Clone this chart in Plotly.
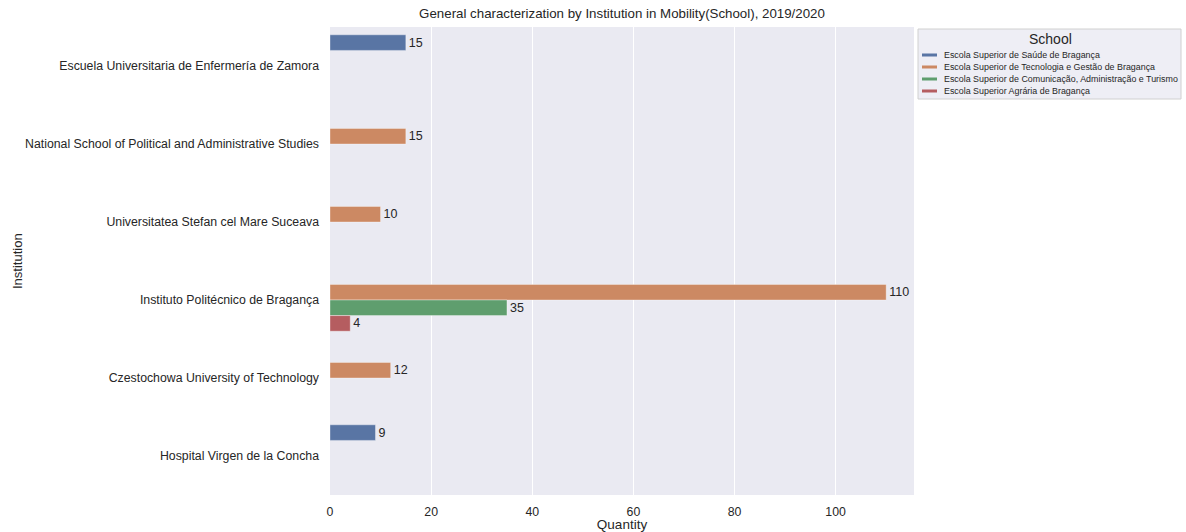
import plotly.graph_objects as go

institutions = [
    "Escuela Universitaria de Enfermería de Zamora",
    "National School of Political and Administrative Studies",
    "Universitatea Stefan cel Mare Suceava",
    "Instituto Politécnico de Bragança",
    "Czestochowa University of Technology",
    "Hospital Virgen de la Concha",
]
schools = [
    "Escola Superior de Saúde de Bragança",
    "Escola Superior de Tecnologia e Gestão de Bragança",
    "Escola Superior de Comunicação, Administração e Turismo",
    "Escola Superior Agrária de Bragança",
]
saude = [15, None, None, None, None, 9]
tecnologia = [None, 15, 10, 110, 12, None]
comunicacao = [None, None, None, 35, None, None]
agraria = [None, None, None, 4, None, None]
series = [saude, tecnologia, comunicacao, agraria]
colors = ["#5975a4", "#cc8963", "#5f9e6e", "#b55d60"]

W, H = 1186, 532
L, R, T, B = 330, 272, 27, 37
PW, PH = W - L - R, H - T - B
TXT = "#262626"
FONT = "Liberation Sans, Arial"


def px(x):
    return (x - L) / PW


def py(y):
    return (H - B - y) / PH


fig = go.Figure()
for name, vals, col in zip(schools, series, colors):
    fig.add_trace(go.Bar(
        y=institutions, x=vals, name=name, orientation="h", showlegend=False,
        marker=dict(color=col, line=dict(color="rgba(255,255,255,0.6)", width=0.6)),
        text=["" if v is None else str(v) for v in vals],
        textposition="outside", constraintext="none", cliponaxis=False,
        textfont=dict(size=12.5, color=TXT, family=FONT),
    ))

# legend (drawn manually to match compact matplotlib-style legend)
shapes = [dict(type="rect", xref="paper", yref="paper",
               x0=px(918), x1=px(1181), y0=py(99), y1=py(29),
               fillcolor="rgba(234,234,242,0.8)", line=dict(color="#d0d0d0", width=1))]
annotations = [
    dict(text="School", xref="paper", yref="paper", x=px(1050), y=py(39),
         xanchor="center", yanchor="middle", showarrow=False,
         font=dict(size=14, color=TXT, family=FONT)),
    dict(text="Institution", xref="paper", yref="paper", x=px(17), y=0.5,
         xanchor="center", yanchor="middle", showarrow=False, textangle=-90,
         font=dict(size=13, color=TXT, family=FONT)),
]
row_y = [55, 67, 79, 91]
for name, col, ry in zip(schools, colors, row_y):
    shapes.append(dict(type="line", xref="paper", yref="paper",
                       x0=px(922), x1=px(937), y0=py(ry), y1=py(ry),
                       line=dict(color=col, width=3)))
    annotations.append(dict(text=name, xref="paper", yref="paper", x=px(942), y=py(ry),
                            xanchor="left", yanchor="middle", showarrow=False,
                            font=dict(size=8.9, color=TXT, family=FONT)))

fig.update_layout(
    width=W, height=H,
    barmode="group", bargap=0.2, bargroupgap=0,
    plot_bgcolor="#eaeaf2", paper_bgcolor="white",
    margin=dict(l=L, r=R, t=T, b=B, autoexpand=False),
    showlegend=False,
    font=dict(family=FONT, size=12, color=TXT),
    title=dict(text="General characterization by Institution in Mobility(School), 2019/2020",
               x=0.5, xref="paper", xanchor="center", y=1 - 13 / H, yanchor="middle",
               font=dict(size=13.3, color=TXT)),
    shapes=shapes, annotations=annotations,
    xaxis=dict(
        range=[0, 115.5], tickvals=[0, 20, 40, 60, 80, 100],
        showgrid=True, gridcolor="white", gridwidth=1, zeroline=False,
        showline=False, ticks="", ticklabelstandoff=8, automargin=False,
        title=dict(text="Quantity", standoff=2, font=dict(size=13.5, color=TXT)),
        tickfont=dict(size=12.3, color=TXT),
    ),
    yaxis=dict(
        autorange="reversed", showgrid=False, zeroline=False, showline=False,
        ticks="", ticklabelstandoff=10, tickfont=dict(size=12.3, color=TXT),
        automargin=False,
    ),
)

fig.write_html("out.html", config={"displayModeBar": False},
               post_script="document.body.style.margin='0';")
